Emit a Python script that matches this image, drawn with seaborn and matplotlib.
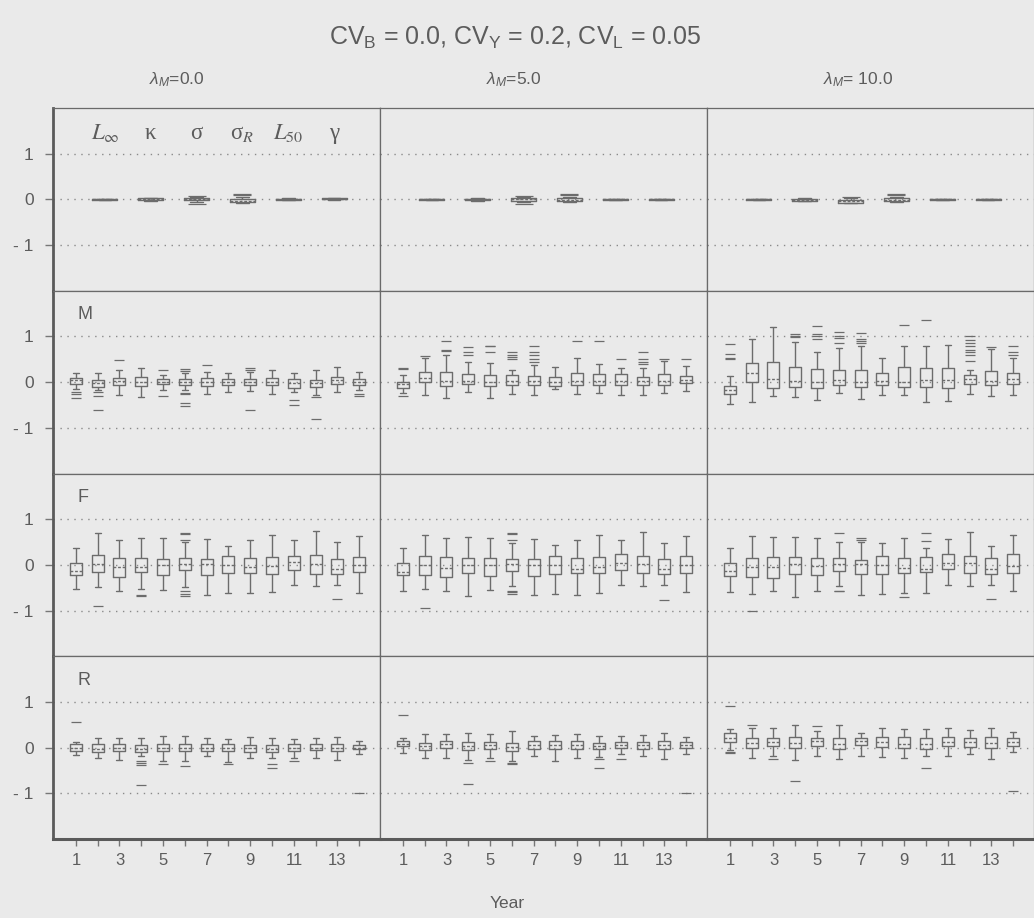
import numpy as np
import pandas as pd
import matplotlib
matplotlib.use("Agg")
import matplotlib.pyplot as plt
import seaborn as sns

# ---------------- data ----------------
lambdas = ["0.0", "5.0", "10.0"]
years = list(range(1, 15))
params = ["Linf", "kappa", "sigma", "sigmaR", "L50", "gamma"]
param_labels = [r"$L_\infty$", "κ", "σ", r"σ$_R$", r"$L_{50}$", "γ"]
row_names = ["M", "F", "R"]

# five-number summaries per box: (lower whisker, Q1, median, Q3, upper whisker)
par_lam0 = [(-0.01, -0.003, 0.0, 0.003, 0.01), (-0.04, -0.02, 0.0, 0.02, 0.03),
            (-0.05, -0.02, 0.01, 0.03, 0.05), (-0.07, -0.05, -0.03, 0.0, 0.05),
            (-0.02, -0.01, 0.0, 0.01, 0.02), (-0.01, 0.0, 0.01, 0.02, 0.03)]
par_lam5 = [(-0.01, -0.003, 0.0, 0.003, 0.01), (-0.03, -0.02, 0.0, 0.01, 0.02),
            (-0.05, -0.03, 0.0, 0.03, 0.05), (-0.06, -0.04, -0.01, 0.02, 0.05),
            (-0.01, -0.005, 0.0, 0.005, 0.01), (-0.01, -0.005, 0.0, 0.005, 0.01)]
par_lam10 = [(-0.01, -0.003, 0.0, 0.003, 0.01), (-0.04, -0.03, -0.01, 0.01, 0.02),
             (-0.09, -0.07, -0.04, -0.01, 0.02), (-0.06, -0.04, -0.02, 0.02, 0.05),
             (-0.01, -0.005, 0.0, 0.005, 0.01), (-0.01, -0.005, 0.0, 0.005, 0.01)]
par_out_lam0 = [(2, 0.08), (2, -0.1), (3, 0.1), (3, 0.12)]
par_out_lam5 = [(2, 0.08), (2, -0.1), (3, 0.1), (3, 0.12)]
par_out_lam10 = [(2, 0.05), (3, 0.1), (3, 0.12)]

M_lam0 = [(-0.15, -0.04, 0.04, 0.10, 0.20), (-0.18, -0.10, -0.03, 0.04, 0.20),
          (-0.28, -0.07, 0.02, 0.09, 0.26), (-0.32, -0.09, 0.00, 0.11, 0.32),
          (-0.18, -0.05, 0.01, 0.07, 0.15), (-0.18, -0.07, 0.00, 0.07, 0.20),
          (-0.26, -0.09, 0.00, 0.09, 0.22), (-0.22, -0.07, 0.00, 0.07, 0.19),
          (-0.20, -0.07, 0.01, 0.07, 0.22), (-0.26, -0.07, 0.01, 0.09, 0.26),
          (-0.22, -0.12, -0.02, 0.06, 0.20), (-0.28, -0.11, -0.02, 0.05, 0.26),
          (-0.22, -0.04, 0.04, 0.11, 0.33), (-0.18, -0.07, 0.01, 0.07, 0.22)]
M_out_lam0 = [(1, -0.22), (1, -0.26), (1, -0.35), (2, -0.22), (2, -0.3), (2, -0.6),
              (3, 0.48), (5, 0.27), (5, -0.3), (6, 0.25), (6, 0.28), (6, -0.23),
              (6, -0.26), (6, -0.45), (6, -0.52), (7, 0.37), (9, 0.27), (9, 0.3),
              (9, -0.6), (11, -0.4), (11, -0.5), (12, -0.32), (12, -0.8),
              (14, -0.25), (14, -0.3)]
M_lam5 = [(-0.23, -0.12, -0.05, 0.01, 0.15), (-0.28, 0.00, 0.10, 0.22, 0.53),
          (-0.34, -0.09, 0.03, 0.23, 0.60), (-0.22, -0.05, 0.03, 0.18, 0.45),
          (-0.35, -0.09, 0.00, 0.15, 0.42), (-0.26, -0.07, 0.03, 0.15, 0.26),
          (-0.28, -0.06, 0.02, 0.13, 0.37), (-0.15, -0.09, 0.00, 0.11, 0.33),
          (-0.26, -0.07, 0.02, 0.20, 0.53), (-0.24, -0.06, 0.03, 0.18, 0.40),
          (-0.28, -0.07, 0.03, 0.18, 0.31), (-0.28, -0.07, 0.02, 0.11, 0.31),
          (-0.24, -0.06, 0.03, 0.18, 0.47), (-0.20, -0.03, 0.05, 0.13, 0.35)]
M_out_lam5 = [(1, 0.28), (1, 0.3), (1, -0.3), (2, 0.58), (3, 0.68), (3, 0.7),
              (3, 0.9), (4, 0.6), (4, 0.66), (4, 0.76), (5, 0.67), (5, 0.78),
              (5, 0.8), (6, 0.5), (6, 0.55), (6, 0.6), (6, 0.67), (7, 0.45),
              (7, 0.5), (7, 0.6), (7, 0.67), (7, 0.8), (9, 0.9), (10, 0.9),
              (11, 0.5), (12, 0.4), (12, 0.45), (12, 0.5), (12, 0.65), (13, 0.5),
              (14, 0.5)]
M_lam10 = [(-0.48, -0.27, -0.17, -0.09, 0.13), (-0.44, 0.01, 0.20, 0.42, 0.95),
           (-0.30, -0.12, 0.07, 0.44, 1.20), (-0.32, -0.10, 0.03, 0.34, 0.88),
           (-0.40, -0.12, 0.00, 0.29, 0.67), (-0.23, -0.07, 0.04, 0.27, 0.75),
           (-0.37, -0.10, 0.00, 0.26, 0.78), (-0.28, -0.06, 0.02, 0.20, 0.53),
           (-0.28, -0.10, 0.00, 0.33, 0.80), (-0.44, -0.10, 0.05, 0.31, 0.80),
           (-0.42, -0.12, 0.04, 0.31, 0.82), (-0.26, -0.05, 0.06, 0.16, 0.27),
           (-0.30, -0.07, 0.03, 0.24, 0.73), (-0.28, -0.05, 0.07, 0.20, 0.53)]
M_out_lam10 = [(1, 0.5), (1, 0.52), (1, 0.62), (1, 0.84), (4, 0.98), (4, 1.0),
               (4, 1.05), (5, 0.95), (5, 1.0), (5, 1.05), (5, 1.22), (6, 0.85),
               (6, 0.97), (6, 1.0), (6, 1.1), (7, 0.85), (7, 0.9), (7, 0.95),
               (7, 1.07), (9, 1.25), (10, 1.35), (12, 0.46), (12, 0.6),
               (12, 0.65), (12, 0.7), (12, 0.8), (12, 0.85), (12, 0.92), (12, 1.0),
               (13, 0.76), (14, 0.6), (14, 0.65), (14, 0.8)]

F_lam0 = [(-0.52, -0.22, -0.14, 0.04, 0.38), (-0.49, -0.16, 0.01, 0.22, 0.70),
          (-0.58, -0.27, -0.05, 0.16, 0.55), (-0.52, -0.16, -0.05, 0.14, 0.59),
          (-0.54, -0.23, 0.00, 0.13, 0.58), (-0.49, -0.12, 0.02, 0.14, 0.49),
          (-0.65, -0.23, 0.02, 0.12, 0.56), (-0.62, -0.18, 0.00, 0.20, 0.42),
          (-0.62, -0.18, -0.05, 0.14, 0.54), (-0.59, -0.20, -0.03, 0.18, 0.65),
          (-0.43, -0.12, 0.06, 0.20, 0.54), (-0.46, -0.21, 0.03, 0.22, 0.74),
          (-0.45, -0.20, -0.09, 0.13, 0.51), (-0.61, -0.16, -0.01, 0.18, 0.64)]
F_out_lam0 = [(2, -0.9), (4, -0.65), (4, -0.68), (6, 0.55), (6, 0.68), (6, 0.7),
              (6, -0.58), (6, -0.63), (6, -0.68), (13, -0.75)]
F_lam5 = [(-0.58, -0.23, -0.15, 0.04, 0.37), (-0.53, -0.22, 0.00, 0.20, 0.66),
          (-0.57, -0.26, -0.06, 0.18, 0.59), (-0.69, -0.18, 0.00, 0.16, 0.60),
          (-0.55, -0.24, 0.00, 0.14, 0.58), (-0.47, -0.13, 0.01, 0.12, 0.48),
          (-0.66, -0.24, 0.00, 0.12, 0.56), (-0.63, -0.19, 0.00, 0.20, 0.44),
          (-0.65, -0.18, -0.08, 0.15, 0.55), (-0.61, -0.17, -0.04, 0.18, 0.66),
          (-0.45, -0.12, 0.05, 0.23, 0.55), (-0.47, -0.18, 0.03, 0.19, 0.72),
          (-0.45, -0.20, -0.10, 0.12, 0.47), (-0.60, -0.17, 0.00, 0.19, 0.64)]
F_out_lam5 = [(2, -0.95), (6, 0.55), (6, 0.68), (6, 0.7), (6, -0.57), (6, -0.6),
              (6, -0.63), (13, -0.77)]
F_lam10 = [(-0.59, -0.24, -0.13, 0.05, 0.38), (-0.64, -0.26, -0.05, 0.15, 0.64),
           (-0.58, -0.28, -0.05, 0.18, 0.60), (-0.70, -0.19, 0.01, 0.18, 0.60),
           (-0.58, -0.23, -0.02, 0.14, 0.59), (-0.46, -0.13, 0.02, 0.14, 0.49),
           (-0.65, -0.20, 0.02, 0.11, 0.49), (-0.64, -0.19, 0.00, 0.20, 0.47),
           (-0.62, -0.17, -0.06, 0.15, 0.58), (-0.62, -0.16, -0.08, 0.18, 0.36),
           (-0.45, -0.09, 0.04, 0.23, 0.56), (-0.47, -0.17, 0.05, 0.20, 0.72),
           (-0.45, -0.20, -0.09, 0.14, 0.42), (-0.58, -0.17, -0.03, 0.23, 0.66)]
F_out_lam10 = [(2, -1.0), (6, 0.7), (6, -0.57), (6, -0.58), (7, 0.55), (7, 0.58),
               (9, -0.7), (10, 0.52), (10, 0.7), (13, -0.75)]

R_lam0 = [(-0.17, -0.07, 0.00, 0.07, 0.13), (-0.23, -0.09, -0.02, 0.07, 0.20),
          (-0.26, -0.08, 0.00, 0.09, 0.21), (-0.18, -0.09, -0.02, 0.05, 0.20),
          (-0.29, -0.07, 0.00, 0.07, 0.26), (-0.29, -0.08, 0.00, 0.08, 0.26),
          (-0.18, -0.07, 0.00, 0.07, 0.22), (-0.31, -0.08, 0.00, 0.07, 0.18),
          (-0.23, -0.09, -0.01, 0.05, 0.23), (-0.22, -0.09, -0.02, 0.05, 0.21),
          (-0.23, -0.07, 0.00, 0.07, 0.18), (-0.23, -0.05, 0.00, 0.07, 0.20),
          (-0.26, -0.07, -0.01, 0.07, 0.23), (-0.15, -0.04, 0.00, 0.05, 0.15)]
R_out_lam0 = [(1, 0.57), (4, -0.3), (4, -0.33), (4, -0.37), (4, -0.82), (5, -0.35),
              (6, -0.4), (8, -0.35), (10, -0.35), (10, -0.45), (11, -0.3),
              (14, -0.99)]
R_lam5 = [(-0.12, 0.04, 0.09, 0.14, 0.22), (-0.22, -0.06, 0.03, 0.11, 0.30),
          (-0.22, -0.01, 0.07, 0.14, 0.30), (-0.27, -0.05, 0.03, 0.12, 0.33),
          (-0.22, -0.03, 0.06, 0.13, 0.30), (-0.29, -0.07, 0.02, 0.11, 0.36),
          (-0.18, -0.04, 0.05, 0.14, 0.26), (-0.30, -0.04, 0.06, 0.15, 0.28),
          (-0.22, -0.04, 0.05, 0.14, 0.30), (-0.20, -0.04, 0.03, 0.11, 0.25),
          (-0.14, -0.01, 0.06, 0.13, 0.25), (-0.18, -0.02, 0.05, 0.13, 0.28),
          (-0.25, -0.04, 0.05, 0.14, 0.33), (-0.13, -0.01, 0.06, 0.13, 0.23)]
R_out_lam5 = [(1, 0.72), (4, -0.33), (4, -0.8), (5, -0.3), (6, -0.33), (6, -0.36),
              (10, -0.25), (10, -0.45), (11, -0.24), (14, -1.0)]
R_lam10 = [(-0.06, 0.13, 0.22, 0.31, 0.40), (-0.22, -0.01, 0.10, 0.22, 0.43),
           (-0.18, 0.04, 0.12, 0.22, 0.44), (-0.27, -0.01, 0.10, 0.24, 0.49),
           (-0.19, 0.04, 0.14, 0.22, 0.37), (-0.24, -0.04, 0.08, 0.20, 0.50),
           (-0.18, 0.06, 0.14, 0.22, 0.31), (-0.21, 0.01, 0.12, 0.24, 0.43),
           (-0.22, -0.01, 0.08, 0.24, 0.40), (-0.19, -0.02, 0.08, 0.22, 0.40),
           (-0.18, 0.04, 0.13, 0.23, 0.44), (-0.15, 0.02, 0.12, 0.22, 0.38),
           (-0.25, -0.01, 0.10, 0.24, 0.43), (-0.09, 0.04, 0.12, 0.20, 0.34)]
R_out_lam10 = [(1, 0.92), (1, -0.1), (1, -0.12), (2, 0.5), (3, -0.25), (4, -0.72),
               (5, 0.48), (10, -0.45), (14, -0.95)]

param_stats = [par_lam0, par_lam5, par_lam10]
param_out = [par_out_lam0, par_out_lam5, par_out_lam10]
year_stats = [[M_lam0, M_lam5, M_lam10], [F_lam0, F_lam5, F_lam10], [R_lam0, R_lam5, R_lam10]]
year_out = [[M_out_lam0, M_out_lam5, M_out_lam10], [F_out_lam0, F_out_lam5, F_out_lam10],
            [R_out_lam0, R_out_lam5, R_out_lam10]]

# ---------------- style ----------------
BG = "#eaeaea"
BOX = "#6c6c6c"
TXT = "#5c5c5c"
sns.set_theme(style="white")
plt.rcParams["font.family"] = ["Liberation Sans", "DejaVu Sans"]
plt.rcParams["mathtext.fontset"] = "custom"
plt.rcParams["mathtext.rm"] = "Liberation Sans"
plt.rcParams["mathtext.it"] = "Liberation Sans:italic"
plt.rcParams["figure.facecolor"] = BG
plt.rcParams["axes.facecolor"] = BG

fig, axes = plt.subplots(4, 3, figsize=(10.34, 9.18), dpi=100)
fig.subplots_adjust(left=53 / 1034, right=1.0, top=1 - 108 / 918, bottom=1 - 839 / 918,
                    wspace=0, hspace=0)


def draw_boxes(ax, xs, stats, outliers, msize):
    recs = [(x, v) for x, s in zip(xs, stats) for v in s]
    df = pd.DataFrame(recs, columns=["x", "value"])
    sns.boxplot(data=df, x="x", y="value", native_scale=True, whis=(0, 100),
                showfliers=False, width=0.55, fill=False, color=BOX, linewidth=1.0,
                medianprops=dict(linestyle=(0, (2, 1.3)), linewidth=1.0), ax=ax)
    if outliers:
        od = pd.DataFrame(outliers, columns=["x", "value"])
        sns.scatterplot(data=od, x="x", y="value", marker="_", s=msize, color=BOX,
                        linewidth=0.9, ax=ax, legend=False, zorder=3)


for r in range(4):
    for c in range(3):
        ax = axes[r, c]
        ax.set_facecolor(BG)
        for yv in (-1, 0, 1):
            ax.axhline(yv, color="#8a8a8a", lw=1.0, ls=(0, (1, 4)), zorder=0)
        if r == 0:
            pos = list(range(len(params)))
            draw_boxes(ax, pos, param_stats[c], [(pos[i], v) for i, v in param_out[c]], 180)
            ax.set_xlim(-1.13, 6.0)
            if c == 0:
                for i, lab in enumerate(param_labels):
                    ax.text(pos[i], 1.45, lab, ha="center", va="center", fontsize=16.5,
                            color=TXT, family=["Liberation Serif", "DejaVu Serif"],
                            style="italic" if lab.startswith("$") else "normal",
                            math_fontfamily="stix")
        else:
            draw_boxes(ax, years, year_stats[r - 1][c], year_out[r - 1][c], 45)
            ax.set_xlim(-0.05, 14.95)
            if c == 0:
                ax.text(0.075, 0.87, row_names[r - 1], transform=ax.transAxes, ha="left",
                        va="center", fontsize=13, color=TXT)
        ax.set_ylim(-2, 2)
        ax.set_xlabel("")
        ax.set_ylabel("")
        for sp in ax.spines.values():
            sp.set_visible(True)
            sp.set_color("#6a6a6a")
            sp.set_linewidth(0.9)
        ax.set_yticks([-1, 0, 1])
        if c == 0:
            ax.set_yticklabels(["- 1", "0", "1"], fontsize=12.5, color=TXT)
            ax.tick_params(axis="y", left=True, length=6, width=1, color="#777",
                           pad=8, direction="out")
            ax.spines["left"].set_linewidth(2.0)
            ax.spines["left"].set_color("#5a5a5a")
        else:
            ax.tick_params(axis="y", left=False, labelleft=False)
        if r == 3:
            ax.set_xticks(years)
            ax.set_xticklabels([str(y) if y % 2 == 1 else "" for y in years],
                               fontsize=12, color=TXT)
            ax.tick_params(axis="x", bottom=True, length=5, width=1, color="#777",
                           pad=5, direction="out")
            ax.spines["bottom"].set_linewidth(2.2)
            ax.spines["bottom"].set_color("#5a5a5a")
        else:
            ax.set_xticks([])

fig.text(0.498, 1 - 38 / 918, r"CV$_\mathrm{B}$ = 0.0, CV$_\mathrm{Y}$ = 0.2, CV$_\mathrm{L}$ = 0.05",
         ha="center", va="center", fontsize=18, color=TXT)
for c, (xc, lam) in enumerate(zip([177, 514, 858], lambdas)):
    sep = "" if c < 2 else " "
    fig.text(xc / 1034, 1 - 80 / 918, r"$\lambda_M$=" + sep + lam, ha="center", va="center",
             fontsize=12.5, color=TXT)
fig.text(507 / 1034, 1 - 903 / 918, "Year", ha="center", va="center", fontsize=12.5, color=TXT)

fig.savefig("out.png", dpi=100, facecolor=BG)
